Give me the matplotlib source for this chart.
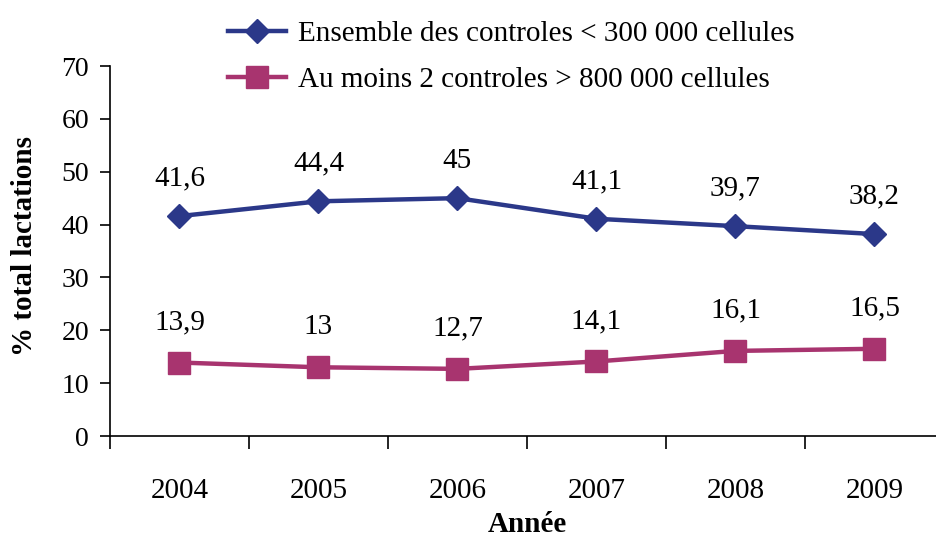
import matplotlib.pyplot as plt
import numpy as np

years = ['2004', '2005', '2006', '2007', '2008', '2009']
sous_300k = [41.6, 44.4, 45, 41.1, 39.7, 38.2]
sup_800k = [13.9, 13, 12.7, 14.1, 16.1, 16.5]
labels = ['Ensemble des controles < 300 000 cellules',
          'Au moins 2 controles > 800 000 cellules']

blue = '#2B3889'
pink = '#A8346F'

plt.rcParams['font.family'] = ['Liberation Serif', 'DejaVu Serif']

fig = plt.figure(figsize=(9.37, 5.4), dpi=100)
ax = fig.add_axes([110 / 937, 104 / 540, 834 / 937, 370 / 540])

x = np.arange(len(years))
l1, = ax.plot(x, sous_300k, color=blue, lw=3.2, marker='D', ms=12, label=labels[0])
l2, = ax.plot(x, sup_800k, color=pink, lw=3.2, marker='s', ms=16, label=labels[1])

def put_labels(vals, off):
    for xi, v in zip(x, vals):
        txt = ('%g' % v).replace('.', ',')
        ax.annotate(txt, (xi, v), xytext=(0, off), textcoords='offset points',
                    ha='center', va='center', fontsize=21)

put_labels(sous_300k, 27)
put_labels(sup_800k, 29)

ax.set_xlim(-0.5, 5.5)
ax.set_ylim(0, 70)
ax.set_yticks(range(0, 71, 10))
ax.tick_params(axis='y', labelsize=20, length=7, width=1.2, pad=8)

# ticks at the category edges, labels in between
ax.set_xticks(np.arange(-0.5, 6, 1))
ax.set_xticklabels([])
ax.tick_params(axis='x', which='major', length=9, width=1.2)
ax.set_xticks(x, minor=True)
ax.set_xticklabels(years, minor=True)
ax.tick_params(axis='x', which='minor', length=0, labelsize=21, pad=30)

for s in ['top', 'right']:
    ax.spines[s].set_visible(False)
for s in ['left', 'bottom']:
    ax.spines[s].set_linewidth(1.2)

ax.set_xlabel('Année', fontsize=21, fontweight='bold', va='center')
ax.xaxis.set_label_coords(0.5, -89 / 370)
ax.set_ylabel('% total lactations', fontsize=21, fontweight='bold', va='center')
ax.yaxis.set_label_coords(-85 / 834, 190 / 370)

fig.legend(handles=[l1, l2], loc='upper left',
           bbox_to_anchor=(216 / 937, 1 - 9 / 540),
           frameon=False, fontsize=21, handlelength=2.0, handletextpad=0.4,
           labelspacing=0.68, borderaxespad=0)

fig.savefig('out.png', dpi=100)
